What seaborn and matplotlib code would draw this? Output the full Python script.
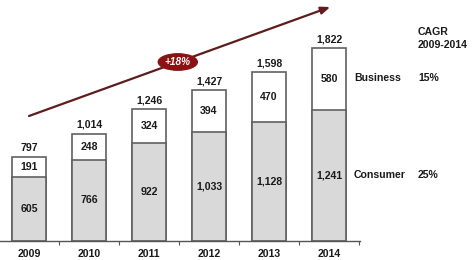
import matplotlib
matplotlib.use("Agg")
import matplotlib.pyplot as plt
import seaborn as sns
import pandas as pd
import numpy as np

years = ["2009", "2010", "2011", "2012", "2013", "2014"]
consumer = [605, 766, 922, 1033, 1128, 1241]
business = [191, 248, 324, 394, 470, 580]
totals = [797, 1014, 1246, 1427, 1598, 1822]
cagr_total = "+18%"
cagr_business = "15%"
cagr_consumer = "25%"

sns.set_theme(style="white")
plt.rcParams['font.family'] = ['Liberation Sans', 'DejaVu Sans']

df = pd.DataFrame({"year": years, "consumer": consumer, "business": business, "total": totals})

fig = plt.figure(figsize=(4.73, 2.6), dpi=100)
ax = fig.add_axes([0, 19/260, 1, 241/260])

edge = "#606060"
sns.barplot(data=df, x="year", y="total", color="white", edgecolor=edge,
            linewidth=1.2, width=0.567, saturation=1, ax=ax)
sns.barplot(data=df, x="year", y="consumer", color="#d9d9d9", edgecolor=edge,
            linewidth=1.2, width=0.567, saturation=1, ax=ax)

upp = 9.44
ax.set_xlim(-29/60, (473-29)/60)
ax.set_ylim(0, 241*upp)

txt = "#1a1a1a"
fs = 7.6
for i in range(len(years)):
    ax.text(i, consumer[i]/2, f"{consumer[i]:,}", ha="center", va="center",
            fontsize=fs, fontweight="bold", color=txt)
    ax.text(i, consumer[i] + business[i]/2, f"{business[i]:,}", ha="center", va="center",
            fontsize=fs, fontweight="bold", color=txt)
    ax.text(i, totals[i] + 35, f"{totals[i]:,}", ha="center", va="bottom",
            fontsize=fs, fontweight="bold", color=txt)

# axis
for s in ["top", "right", "left"]:
    ax.spines[s].set_visible(False)
ax.spines["bottom"].set_bounds(-29/60, 5.52)
ax.spines["bottom"].set_color("#555555")
ax.spines["bottom"].set_linewidth(1.0)
ax.set_yticks([])
ax.set_xticks(range(len(years)))
ax.set_xticklabels(years, fontsize=fs, fontweight="bold", color=txt)
ax.tick_params(axis="x", which="major", length=0, pad=6)
ax.set_xticks(np.arange(0.5, 6, 1), minor=True)
ax.tick_params(axis="x", which="minor", length=3, width=0.8, color="#555555", direction="out", bottom=True)
ax.set_xlabel("")
ax.set_ylabel("")

# growth arrow
ax.annotate("", xy=(5.02, (241-7)*upp), xytext=(0, (241-116)*upp),
            arrowprops=dict(arrowstyle="-|>,head_length=0.45,head_width=0.18",
                            color="#5e1c1c", lw=1.6, shrinkA=0, shrinkB=0))
ax.text(2.48, (241-62)*upp, cagr_total, ha="center", va="center", fontsize=7.2,
        fontweight="bold", fontstyle="italic", color="white",
        bbox=dict(boxstyle="ellipse,pad=0.08", fc="#8b1212", ec="#8b1212"))

# right-hand legend text
xr1 = (354-29)/60
xr2 = (418-29)/60
ax.text(xr2, (241-32)*upp, "CAGR", ha="left", va="center", fontsize=fs, fontweight="bold", color=txt)
ax.text(xr2, (241-45)*upp, "2009-2014", ha="left", va="center", fontsize=fs, fontweight="bold", color=txt)
ax.text(xr1, (241-78)*upp, "Business", ha="left", va="center", fontsize=fs, fontweight="bold", color=txt)
ax.text(xr2, (241-78)*upp, cagr_business, ha="left", va="center", fontsize=fs, fontweight="bold", color=txt)
ax.text(xr1, (241-175)*upp, "Consumer", ha="left", va="center", fontsize=fs, fontweight="bold", color=txt)
ax.text(xr2, (241-175)*upp, cagr_consumer, ha="left", va="center", fontsize=fs, fontweight="bold", color=txt)

fig.savefig("out.png", dpi=100)
